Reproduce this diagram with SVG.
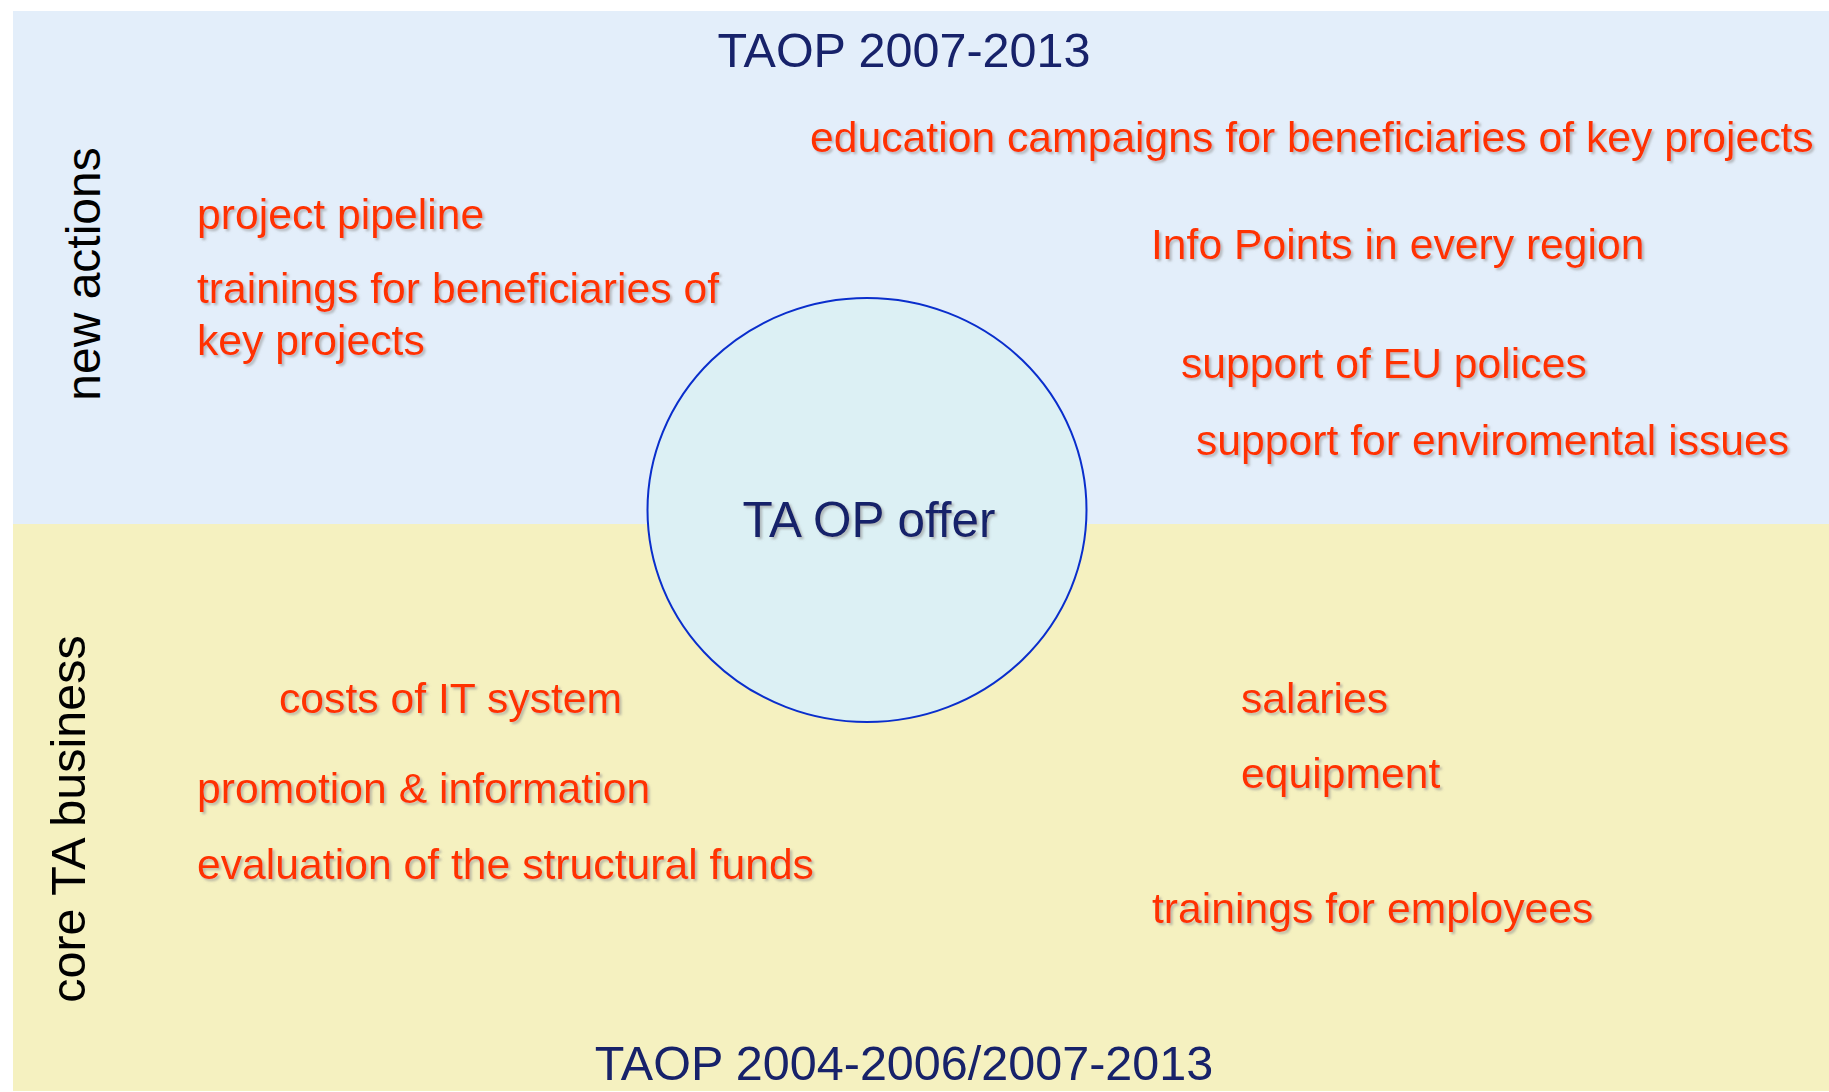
<svg xmlns="http://www.w3.org/2000/svg" width="1829" height="1092" viewBox="0 0 1829 1092">
<defs>
<style>
.red{font-family:"Liberation Sans",Arial,sans-serif;font-size:42.7px;fill:#FF3300;filter:url(#sh);}
.navy{font-family:"Liberation Sans",Arial,sans-serif;font-size:48.5px;fill:#17226A;}
.side{font-family:"Liberation Sans",Arial,sans-serif;font-size:48px;fill:#000000;}
</style>
<filter id="sh" x="-5%" y="-20%" width="110%" height="150%">
<feDropShadow dx="2.2" dy="2.2" stdDeviation="0.8" flood-color="#8C8C8C" flood-opacity="0.55"/>
</filter>
</defs>
<rect x="0" y="0" width="1829" height="1092" fill="#FFFFFF"/>
<rect id="zone-new" x="13" y="11" width="1816" height="513" fill="#E3EEFA"/>
<rect id="zone-core" x="13" y="524" width="1816" height="567" fill="#F5F1C0"/>
<g id="connectors"></g>
<g id="center-node">
<ellipse cx="867" cy="510" rx="219.5" ry="212" fill="#DCF0F4" stroke="#0A2ECC" stroke-width="2"/>
<text class="navy" x="869" y="537" text-anchor="middle" style="font-size:49.5px;filter:url(#sh)">TA OP offer</text>
</g>
<g id="titles">
<text class="navy" x="904" y="67" text-anchor="middle">TAOP 2007-2013</text>
<text class="navy" x="904" y="1080" text-anchor="middle">TAOP 2004-2006/2007-2013</text>
</g>
<g id="side-labels">
<text class="side" transform="translate(100,274) rotate(-90)" text-anchor="middle">new actions</text>
<text class="side" transform="translate(85,819) rotate(-90)" text-anchor="middle" style="font-size:48.5px">core TA business</text>
</g>
<g id="new-actions">
<text class="red" x="810" y="152">education campaigns for beneficiaries of key projects</text>
<text class="red" x="197" y="229">project pipeline</text>
<text class="red" x="1151" y="259">Info Points in every region</text>
<text class="red" x="197" y="303">trainings for beneficiaries of</text>
<text class="red" x="197" y="355">key projects</text>
<text class="red" x="1181" y="378">support of EU polices</text>
<text class="red" x="1196" y="455">support for enviromental issues</text>
</g>
<g id="core-business">
<text class="red" x="279" y="713">costs of IT system</text>
<text class="red" x="1241" y="713">salaries</text>
<text class="red" x="1241" y="788">equipment</text>
<text class="red" x="197" y="803">promotion &amp; information</text>
<text class="red" x="197" y="879">evaluation of the structural funds</text>
<text class="red" x="1152" y="923">trainings for employees</text>
</g>
</svg>
